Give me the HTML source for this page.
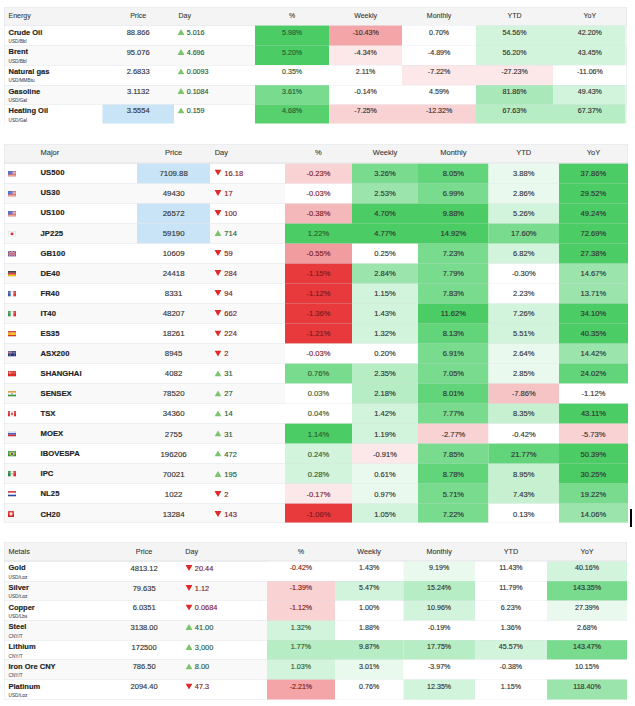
<!DOCTYPE html>
<html><head><meta charset="utf-8"><title>Markets</title>
<style>
html,body{margin:0;padding:0;background:#fff;overflow:hidden;width:635px;height:706px}
#w{position:absolute;left:0;top:0;width:1270px;height:1412px;transform:scale(.5);transform-origin:0 0;
font-family:"Liberation Sans",sans-serif;color:#333}
.b,.t,.a,.f{position:absolute}
.t,.a{z-index:3}
.t{white-space:nowrap;font-size:15px;overflow:visible;-webkit-text-stroke:.3px currentColor}
.h{font-size:14px;color:#333;-webkit-text-stroke:.15px currentColor}
.n{font-weight:bold;font-size:15px;color:#222}
.s{font-size:9.4px;color:#475063;line-height:10px;-webkit-text-stroke:.15px currentColor}
.d{font-size:15px;-webkit-text-stroke:.28px currentColor}
.f svg{display:block}
.dg{letter-spacing:.4px}
svg.a{display:block}
</style></head><body><div id="w">
<div class="b" style="left:8.00px;top:14.00px;width:1246.00px;height:37.20px;background:#f4f4f4;"></div>
<div class="b" style="left:8.00px;top:14.00px;width:1246.00px;height:1.00px;background:#dde0e4;opacity:.7;"></div>
<div class="b" style="left:8.00px;top:49.70px;width:1246.00px;height:1.50px;background:#dde0e4;opacity:.9;"></div>
<div class="t h" style="left:17.00px;top:12.00px;width:300.00px;height:37.00px;line-height:37.00px;text-align:left;font-size:14px;">Energy</div>
<div class="t h" style="left:204.60px;top:12.00px;width:143.40px;height:37.00px;line-height:37.00px;text-align:center;font-size:14px;">Price</div>
<div class="t h" style="left:357.00px;top:12.00px;width:100.00px;height:37.00px;line-height:37.00px;text-align:left;font-size:14px;">Day</div>
<div class="t h" style="left:510.00px;top:12.00px;width:148.40px;height:37.00px;line-height:37.00px;text-align:center;font-size:14px;">%</div>
<div class="t h" style="left:658.40px;top:12.00px;width:145.60px;height:37.00px;line-height:37.00px;text-align:center;font-size:14px;">Weekly</div>
<div class="t h" style="left:804.00px;top:12.00px;width:148.40px;height:37.00px;line-height:37.00px;text-align:center;font-size:14px;">Monthly</div>
<div class="t h" style="left:952.40px;top:12.00px;width:153.20px;height:37.00px;line-height:37.00px;text-align:center;font-size:14px;">YTD</div>
<div class="t h" style="left:1105.60px;top:12.00px;width:148.40px;height:37.00px;line-height:37.00px;text-align:center;font-size:14px;">YoY</div>
<div class="b" style="left:8.00px;top:51.20px;width:1246.00px;height:39.50px;background:#fff;"></div>
<div class="b" style="left:510.00px;top:51.20px;width:148.40px;height:40.70px;background:#4ccc64;z-index:1;"></div>
<div class="b" style="left:658.40px;top:51.20px;width:145.60px;height:40.70px;background:#f3a5a7;z-index:1;"></div>
<div class="b" style="left:804.00px;top:51.20px;width:148.40px;height:40.70px;background:#fff;z-index:1;"></div>
<div class="b" style="left:952.40px;top:51.20px;width:153.20px;height:40.70px;background:#d3f4dc;z-index:1;"></div>
<div class="b" style="left:1105.60px;top:51.20px;width:145.40px;height:40.70px;background:#d3f4dc;z-index:1;"></div>
<div class="b" style="left:8.00px;top:51.20px;width:502.00px;height:1.00px;background:#dde0e4;opacity:.9;"></div>
<div class="b" style="left:510.00px;top:51.20px;width:744.00px;height:1.00px;background:rgba(218,222,228,.5);z-index:2;"></div>
<div class="t n" style="left:17.00px;top:54.60px;width:300.00px;height:18.00px;line-height:18.00px;text-align:left;">Crude Oil</div>
<div class="t s" style="left:17.00px;top:77.00px;width:300.00px;height:10.00px;line-height:10.00px;text-align:left;">USD/Bbl</div>
<div class="t d" style="left:204.60px;top:54.60px;width:143.40px;height:20.00px;line-height:20.00px;text-align:center;font-size:15px;">88.866</div>
<svg class="a" style="left:355.00px;top:58.30px" width="14" height="12" viewBox="0 0 14 12"><polygon points="0,12 7.0,0 14,12" fill="#7cc56c"/></svg>
<div class="t d" style="left:373.50px;top:54.60px;width:150.00px;height:20.00px;line-height:20.00px;text-align:left;color:#2a5c33;font-size:14.2px;">5.016</div>
<div class="t d" style="left:510.00px;top:54.60px;width:148.40px;height:20.00px;line-height:20.00px;text-align:center;color:#2a5c33;font-size:14.2px;">5.98%</div>
<div class="t d" style="left:658.40px;top:54.60px;width:145.60px;height:20.00px;line-height:20.00px;text-align:center;font-size:14.2px;">-10.43%</div>
<div class="t d" style="left:804.00px;top:54.60px;width:148.40px;height:20.00px;line-height:20.00px;text-align:center;font-size:14.2px;">0.70%</div>
<div class="t d" style="left:952.40px;top:54.60px;width:153.20px;height:20.00px;line-height:20.00px;text-align:center;font-size:14.2px;">54.56%</div>
<div class="t d" style="left:1105.60px;top:54.60px;width:148.40px;height:20.00px;line-height:20.00px;text-align:center;font-size:14.2px;">42.20%</div>
<div class="b" style="left:8.00px;top:90.70px;width:1246.00px;height:39.50px;background:#f9f9f9;"></div>
<div class="b" style="left:510.00px;top:90.70px;width:148.40px;height:40.70px;background:#4ccc64;z-index:1;"></div>
<div class="b" style="left:658.40px;top:90.70px;width:145.60px;height:40.70px;background:#fce8e8;z-index:1;"></div>
<div class="b" style="left:804.00px;top:90.70px;width:148.40px;height:40.70px;background:#fff;z-index:1;"></div>
<div class="b" style="left:952.40px;top:90.70px;width:153.20px;height:40.70px;background:#d3f4dc;z-index:1;"></div>
<div class="b" style="left:1105.60px;top:90.70px;width:145.40px;height:40.70px;background:#d3f4dc;z-index:1;"></div>
<div class="b" style="left:8.00px;top:90.70px;width:502.00px;height:1.00px;background:#dde0e4;opacity:.9;"></div>
<div class="b" style="left:510.00px;top:90.70px;width:744.00px;height:1.00px;background:rgba(218,222,228,.5);z-index:2;"></div>
<div class="t n" style="left:17.00px;top:93.90px;width:300.00px;height:18.00px;line-height:18.00px;text-align:left;">Brent</div>
<div class="t s" style="left:17.00px;top:116.70px;width:300.00px;height:10.00px;line-height:10.00px;text-align:left;">USD/Bbl</div>
<div class="t d" style="left:204.60px;top:93.80px;width:143.40px;height:20.00px;line-height:20.00px;text-align:center;font-size:15px;">95.076</div>
<svg class="a" style="left:355.00px;top:97.50px" width="14" height="12" viewBox="0 0 14 12"><polygon points="0,12 7.0,0 14,12" fill="#7cc56c"/></svg>
<div class="t d" style="left:373.50px;top:93.80px;width:150.00px;height:20.00px;line-height:20.00px;text-align:left;color:#2a5c33;font-size:14.2px;">4.696</div>
<div class="t d" style="left:510.00px;top:93.80px;width:148.40px;height:20.00px;line-height:20.00px;text-align:center;color:#2a5c33;font-size:14.2px;">5.20%</div>
<div class="t d" style="left:658.40px;top:93.80px;width:145.60px;height:20.00px;line-height:20.00px;text-align:center;font-size:14.2px;">-4.34%</div>
<div class="t d" style="left:804.00px;top:93.80px;width:148.40px;height:20.00px;line-height:20.00px;text-align:center;font-size:14.2px;">-4.89%</div>
<div class="t d" style="left:952.40px;top:93.80px;width:153.20px;height:20.00px;line-height:20.00px;text-align:center;font-size:14.2px;">56.20%</div>
<div class="t d" style="left:1105.60px;top:93.80px;width:148.40px;height:20.00px;line-height:20.00px;text-align:center;font-size:14.2px;">43.45%</div>
<div class="b" style="left:8.00px;top:130.20px;width:1246.00px;height:39.50px;background:#fff;"></div>
<div class="b" style="left:510.00px;top:130.20px;width:148.40px;height:40.70px;background:#fff;z-index:1;"></div>
<div class="b" style="left:658.40px;top:130.20px;width:145.60px;height:40.70px;background:#fff;z-index:1;"></div>
<div class="b" style="left:804.00px;top:130.20px;width:148.40px;height:40.70px;background:#fce8e8;z-index:1;"></div>
<div class="b" style="left:952.40px;top:130.20px;width:153.20px;height:40.70px;background:#fce8e8;z-index:1;"></div>
<div class="b" style="left:1105.60px;top:130.20px;width:145.40px;height:40.70px;background:#fff;z-index:1;"></div>
<div class="b" style="left:8.00px;top:130.20px;width:502.00px;height:1.00px;background:#dde0e4;opacity:.9;"></div>
<div class="b" style="left:510.00px;top:130.20px;width:744.00px;height:1.00px;background:rgba(218,222,228,.5);z-index:2;"></div>
<div class="t n" style="left:17.00px;top:133.20px;width:300.00px;height:18.00px;line-height:18.00px;text-align:left;">Natural gas</div>
<div class="t s" style="left:17.00px;top:156.40px;width:300.00px;height:10.00px;line-height:10.00px;text-align:left;">USD/MMBtu</div>
<div class="t d" style="left:204.60px;top:133.00px;width:143.40px;height:20.00px;line-height:20.00px;text-align:center;font-size:15px;">2.6833</div>
<svg class="a" style="left:355.00px;top:136.70px" width="14" height="12" viewBox="0 0 14 12"><polygon points="0,12 7.0,0 14,12" fill="#7cc56c"/></svg>
<div class="t d" style="left:373.50px;top:133.00px;width:150.00px;height:20.00px;line-height:20.00px;text-align:left;color:#2a5c33;font-size:14.2px;">0.0093</div>
<div class="t d" style="left:510.00px;top:133.00px;width:148.40px;height:20.00px;line-height:20.00px;text-align:center;color:#2a5c33;font-size:14.2px;">0.35%</div>
<div class="t d" style="left:658.40px;top:133.00px;width:145.60px;height:20.00px;line-height:20.00px;text-align:center;font-size:14.2px;">2.11%</div>
<div class="t d" style="left:804.00px;top:133.00px;width:148.40px;height:20.00px;line-height:20.00px;text-align:center;font-size:14.2px;">-7.22%</div>
<div class="t d" style="left:952.40px;top:133.00px;width:153.20px;height:20.00px;line-height:20.00px;text-align:center;font-size:14.2px;">-27.23%</div>
<div class="t d" style="left:1105.60px;top:133.00px;width:148.40px;height:20.00px;line-height:20.00px;text-align:center;font-size:14.2px;">-11.06%</div>
<div class="b" style="left:8.00px;top:169.70px;width:1246.00px;height:39.50px;background:#f9f9f9;"></div>
<div class="b" style="left:510.00px;top:169.70px;width:148.40px;height:40.70px;background:#78db8e;z-index:1;"></div>
<div class="b" style="left:658.40px;top:169.70px;width:145.60px;height:40.70px;background:#fff;z-index:1;"></div>
<div class="b" style="left:804.00px;top:169.70px;width:148.40px;height:40.70px;background:#fff;z-index:1;"></div>
<div class="b" style="left:952.40px;top:169.70px;width:153.20px;height:40.70px;background:#a9e8b8;z-index:1;"></div>
<div class="b" style="left:1105.60px;top:169.70px;width:145.40px;height:40.70px;background:#d3f4dc;z-index:1;"></div>
<div class="b" style="left:8.00px;top:169.70px;width:502.00px;height:1.00px;background:#dde0e4;opacity:.9;"></div>
<div class="b" style="left:510.00px;top:169.70px;width:744.00px;height:1.00px;background:rgba(218,222,228,.5);z-index:2;"></div>
<div class="t n" style="left:17.00px;top:172.50px;width:300.00px;height:18.00px;line-height:18.00px;text-align:left;">Gasoline</div>
<div class="t s" style="left:17.00px;top:196.10px;width:300.00px;height:10.00px;line-height:10.00px;text-align:left;">USD/Gal</div>
<div class="t d" style="left:204.60px;top:172.20px;width:143.40px;height:20.00px;line-height:20.00px;text-align:center;font-size:15px;">3.1132</div>
<svg class="a" style="left:355.00px;top:175.90px" width="14" height="12" viewBox="0 0 14 12"><polygon points="0,12 7.0,0 14,12" fill="#7cc56c"/></svg>
<div class="t d" style="left:373.50px;top:172.20px;width:150.00px;height:20.00px;line-height:20.00px;text-align:left;color:#2a5c33;font-size:14.2px;">0.1084</div>
<div class="t d" style="left:510.00px;top:172.20px;width:148.40px;height:20.00px;line-height:20.00px;text-align:center;color:#2a5c33;font-size:14.2px;">3.61%</div>
<div class="t d" style="left:658.40px;top:172.20px;width:145.60px;height:20.00px;line-height:20.00px;text-align:center;font-size:14.2px;">-0.14%</div>
<div class="t d" style="left:804.00px;top:172.20px;width:148.40px;height:20.00px;line-height:20.00px;text-align:center;font-size:14.2px;">4.59%</div>
<div class="t d" style="left:952.40px;top:172.20px;width:153.20px;height:20.00px;line-height:20.00px;text-align:center;font-size:14.2px;">81.86%</div>
<div class="t d" style="left:1105.60px;top:172.20px;width:148.40px;height:20.00px;line-height:20.00px;text-align:center;font-size:14.2px;">49.43%</div>
<div class="b" style="left:8.00px;top:209.20px;width:1246.00px;height:38.20px;background:#fff;"></div>
<div class="b" style="left:204.60px;top:209.20px;width:143.40px;height:38.20px;background:#c9e4f6;"></div>
<div class="b" style="left:510.00px;top:209.20px;width:148.40px;height:38.20px;background:#57d06e;z-index:1;"></div>
<div class="b" style="left:658.40px;top:209.20px;width:145.60px;height:38.20px;background:#f9d2d3;z-index:1;"></div>
<div class="b" style="left:804.00px;top:209.20px;width:148.40px;height:38.20px;background:#f9d2d3;z-index:1;"></div>
<div class="b" style="left:952.40px;top:209.20px;width:153.20px;height:38.20px;background:#b7edc4;z-index:1;"></div>
<div class="b" style="left:1105.60px;top:209.20px;width:145.40px;height:38.20px;background:#b7edc4;z-index:1;"></div>
<div class="b" style="left:8.00px;top:209.20px;width:502.00px;height:1.00px;background:#dde0e4;opacity:.9;"></div>
<div class="b" style="left:510.00px;top:209.20px;width:744.00px;height:1.00px;background:rgba(218,222,228,.5);z-index:2;"></div>
<div class="t n" style="left:17.00px;top:211.80px;width:300.00px;height:18.00px;line-height:18.00px;text-align:left;">Heating Oil</div>
<div class="t s" style="left:17.00px;top:235.80px;width:300.00px;height:10.00px;line-height:10.00px;text-align:left;">USD/Gal</div>
<div class="t d" style="left:204.60px;top:211.40px;width:143.40px;height:20.00px;line-height:20.00px;text-align:center;font-size:15px;">3.5554</div>
<svg class="a" style="left:355.00px;top:215.10px" width="14" height="12" viewBox="0 0 14 12"><polygon points="0,12 7.0,0 14,12" fill="#7cc56c"/></svg>
<div class="t d" style="left:373.50px;top:211.40px;width:150.00px;height:20.00px;line-height:20.00px;text-align:left;color:#2a5c33;font-size:14.2px;">0.159</div>
<div class="t d" style="left:510.00px;top:211.40px;width:148.40px;height:20.00px;line-height:20.00px;text-align:center;color:#2a5c33;font-size:14.2px;">4.68%</div>
<div class="t d" style="left:658.40px;top:211.40px;width:145.60px;height:20.00px;line-height:20.00px;text-align:center;font-size:14.2px;">-7.25%</div>
<div class="t d" style="left:804.00px;top:211.40px;width:148.40px;height:20.00px;line-height:20.00px;text-align:center;font-size:14.2px;">-12.32%</div>
<div class="t d" style="left:952.40px;top:211.40px;width:153.20px;height:20.00px;line-height:20.00px;text-align:center;font-size:14.2px;">67.63%</div>
<div class="t d" style="left:1105.60px;top:211.40px;width:148.40px;height:20.00px;line-height:20.00px;text-align:center;font-size:14.2px;">67.37%</div>
<div class="b" style="left:8.00px;top:14.00px;width:1.00px;height:233.40px;background:#dde0e4;opacity:.8;"></div>
<div class="b" style="left:1253.00px;top:14.00px;width:1.00px;height:233.40px;background:#dde0e4;opacity:.8;"></div>
<div class="b" style="left:8.00px;top:288.00px;width:1248.00px;height:38.70px;background:#f4f4f4;"></div>
<div class="b" style="left:8.00px;top:288.00px;width:1248.00px;height:1.00px;background:#dde0e4;opacity:.7;"></div>
<div class="b" style="left:8.00px;top:325.20px;width:1248.00px;height:1.50px;background:#dde0e4;opacity:.9;"></div>
<div class="t h" style="left:81.00px;top:286.30px;width:300.00px;height:38.70px;line-height:38.70px;text-align:left;font-size:15px;">Major</div>
<div class="t h" style="left:274.00px;top:286.30px;width:146.40px;height:38.70px;line-height:38.70px;text-align:center;font-size:15px;">Price</div>
<div class="t h" style="left:429.40px;top:286.30px;width:100.00px;height:38.70px;line-height:38.70px;text-align:left;font-size:15px;">Day</div>
<div class="t h" style="left:570.00px;top:286.30px;width:133.80px;height:38.70px;line-height:38.70px;text-align:center;font-size:15px;">%</div>
<div class="t h" style="left:703.80px;top:286.30px;width:132.20px;height:38.70px;line-height:38.70px;text-align:center;font-size:15px;">Weekly</div>
<div class="t h" style="left:836.00px;top:286.30px;width:141.40px;height:38.70px;line-height:38.70px;text-align:center;font-size:15px;">Monthly</div>
<div class="t h" style="left:977.40px;top:286.30px;width:140.20px;height:38.70px;line-height:38.70px;text-align:center;font-size:15px;">YTD</div>
<div class="t h" style="left:1117.60px;top:286.30px;width:138.40px;height:38.70px;line-height:38.70px;text-align:center;font-size:15px;">YoY</div>
<div class="b" style="left:8.00px;top:326.70px;width:1248.00px;height:40.00px;background:#fff;"></div>
<div class="b" style="left:274.00px;top:326.70px;width:146.40px;height:40.00px;background:#c9e4f6;"></div>
<div class="b" style="left:570.00px;top:326.70px;width:133.80px;height:41.20px;background:#f9d2d3;z-index:1;"></div>
<div class="b" style="left:703.80px;top:326.70px;width:132.20px;height:41.20px;background:#78db8e;z-index:1;"></div>
<div class="b" style="left:836.00px;top:326.70px;width:141.40px;height:41.20px;background:#62d47a;z-index:1;"></div>
<div class="b" style="left:977.40px;top:326.70px;width:140.20px;height:41.20px;background:#eaf9ee;z-index:1;"></div>
<div class="b" style="left:1117.60px;top:326.70px;width:138.40px;height:41.20px;background:#4ccc64;z-index:1;"></div>
<div class="b" style="left:8.00px;top:326.70px;width:562.00px;height:1.00px;background:#dde0e4;opacity:.9;"></div>
<div class="b" style="left:570.00px;top:326.70px;width:686.00px;height:1.00px;background:rgba(218,222,228,.5);z-index:2;"></div>
<div class="f" style="left:16.00px;top:341.50px"><svg width="16" height="11" viewBox="0 0 16 11"><rect width="16" height="11" fill="#efbcb6"/><rect y="0" width="16" height="1.6" fill="#dd6660"/><rect y="3.1" width="16" height="1.6" fill="#dd6660"/><rect y="6.2" width="16" height="1.6" fill="#dd6660"/><rect y="9.4" width="16" height="1.6" fill="#dd6660"/><rect width="9" height="6.4" fill="#3d5fd6"/><rect width="16" height="5.5" fill="#fff" opacity=".18"/><rect x=".5" y=".5" width="15" height="10" fill="none" stroke="#000" stroke-opacity=".15"/></svg></div>
<div class="t n" style="left:81.00px;top:335.10px;width:300.00px;height:20.00px;line-height:20.00px;text-align:left;font-size:15.4px;">US<span class="dg">500</span></div>
<div class="t d" style="left:274.00px;top:335.70px;width:146.40px;height:20.00px;line-height:20.00px;text-align:center;font-size:15.7px;">7109.88</div>
<svg class="a" style="left:429.40px;top:339.40px" width="14" height="12" viewBox="0 0 14 12"><polygon points="0,0 14,0 7.0,12" fill="#e02a2a"/></svg>
<div class="t d" style="left:448.40px;top:335.70px;width:150.00px;height:20.00px;line-height:20.00px;text-align:left;color:#7e1919;font-size:15.2px;">16.18</div>
<div class="t d" style="left:570.00px;top:335.70px;width:133.80px;height:20.00px;line-height:20.00px;text-align:center;color:#7e1919;font-size:15.1px;">-0.23%</div>
<div class="t d" style="left:703.80px;top:335.70px;width:132.20px;height:20.00px;line-height:20.00px;text-align:center;font-size:15.1px;">3.26%</div>
<div class="t d" style="left:836.00px;top:335.70px;width:141.40px;height:20.00px;line-height:20.00px;text-align:center;font-size:15.1px;">8.05%</div>
<div class="t d" style="left:977.40px;top:335.70px;width:140.20px;height:20.00px;line-height:20.00px;text-align:center;font-size:15.1px;">3.88%</div>
<div class="t d" style="left:1117.60px;top:335.70px;width:138.40px;height:20.00px;line-height:20.00px;text-align:center;font-size:15.1px;">37.86%</div>
<div class="b" style="left:8.00px;top:366.70px;width:1248.00px;height:40.00px;background:#f9f9f9;"></div>
<div class="b" style="left:570.00px;top:366.70px;width:133.80px;height:41.20px;background:#fff;z-index:1;"></div>
<div class="b" style="left:703.80px;top:366.70px;width:132.20px;height:41.20px;background:#9be5ac;z-index:1;"></div>
<div class="b" style="left:836.00px;top:366.70px;width:141.40px;height:41.20px;background:#78db8e;z-index:1;"></div>
<div class="b" style="left:977.40px;top:366.70px;width:140.20px;height:41.20px;background:#eaf9ee;z-index:1;"></div>
<div class="b" style="left:1117.60px;top:366.70px;width:138.40px;height:41.20px;background:#4ccc64;z-index:1;"></div>
<div class="b" style="left:8.00px;top:366.70px;width:562.00px;height:1.00px;background:#dde0e4;opacity:.9;"></div>
<div class="b" style="left:570.00px;top:366.70px;width:686.00px;height:1.00px;background:rgba(218,222,228,.5);z-index:2;"></div>
<div class="f" style="left:16.00px;top:381.55px"><svg width="16" height="11" viewBox="0 0 16 11"><rect width="16" height="11" fill="#efbcb6"/><rect y="0" width="16" height="1.6" fill="#dd6660"/><rect y="3.1" width="16" height="1.6" fill="#dd6660"/><rect y="6.2" width="16" height="1.6" fill="#dd6660"/><rect y="9.4" width="16" height="1.6" fill="#dd6660"/><rect width="9" height="6.4" fill="#3d5fd6"/><rect width="16" height="5.5" fill="#fff" opacity=".18"/><rect x=".5" y=".5" width="15" height="10" fill="none" stroke="#000" stroke-opacity=".15"/></svg></div>
<div class="t n" style="left:81.00px;top:375.24px;width:300.00px;height:20.00px;line-height:20.00px;text-align:left;font-size:15.4px;">US<span class="dg">30</span></div>
<div class="t d" style="left:274.00px;top:375.84px;width:146.40px;height:20.00px;line-height:20.00px;text-align:center;font-size:15.7px;">49430</div>
<svg class="a" style="left:429.40px;top:379.54px" width="14" height="12" viewBox="0 0 14 12"><polygon points="0,0 14,0 7.0,12" fill="#e02a2a"/></svg>
<div class="t d" style="left:448.40px;top:375.84px;width:150.00px;height:20.00px;line-height:20.00px;text-align:left;color:#7e1919;font-size:15.2px;">17</div>
<div class="t d" style="left:570.00px;top:375.84px;width:133.80px;height:20.00px;line-height:20.00px;text-align:center;color:#7e1919;font-size:15.1px;">-0.03%</div>
<div class="t d" style="left:703.80px;top:375.84px;width:132.20px;height:20.00px;line-height:20.00px;text-align:center;font-size:15.1px;">2.53%</div>
<div class="t d" style="left:836.00px;top:375.84px;width:141.40px;height:20.00px;line-height:20.00px;text-align:center;font-size:15.1px;">6.99%</div>
<div class="t d" style="left:977.40px;top:375.84px;width:140.20px;height:20.00px;line-height:20.00px;text-align:center;font-size:15.1px;">2.86%</div>
<div class="t d" style="left:1117.60px;top:375.84px;width:138.40px;height:20.00px;line-height:20.00px;text-align:center;font-size:15.1px;">29.52%</div>
<div class="b" style="left:8.00px;top:406.70px;width:1248.00px;height:40.00px;background:#fff;"></div>
<div class="b" style="left:274.00px;top:406.70px;width:146.40px;height:40.00px;background:#c9e4f6;"></div>
<div class="b" style="left:570.00px;top:406.70px;width:133.80px;height:41.20px;background:#f5b8ba;z-index:1;"></div>
<div class="b" style="left:703.80px;top:406.70px;width:132.20px;height:41.20px;background:#4ccc64;z-index:1;"></div>
<div class="b" style="left:836.00px;top:406.70px;width:141.40px;height:41.20px;background:#4ccc64;z-index:1;"></div>
<div class="b" style="left:977.40px;top:406.70px;width:140.20px;height:41.20px;background:#d3f4dc;z-index:1;"></div>
<div class="b" style="left:1117.60px;top:406.70px;width:138.40px;height:41.20px;background:#4ccc64;z-index:1;"></div>
<div class="b" style="left:8.00px;top:406.70px;width:562.00px;height:1.00px;background:#dde0e4;opacity:.9;"></div>
<div class="b" style="left:570.00px;top:406.70px;width:686.00px;height:1.00px;background:rgba(218,222,228,.5);z-index:2;"></div>
<div class="f" style="left:16.00px;top:421.60px"><svg width="16" height="11" viewBox="0 0 16 11"><rect width="16" height="11" fill="#efbcb6"/><rect y="0" width="16" height="1.6" fill="#dd6660"/><rect y="3.1" width="16" height="1.6" fill="#dd6660"/><rect y="6.2" width="16" height="1.6" fill="#dd6660"/><rect y="9.4" width="16" height="1.6" fill="#dd6660"/><rect width="9" height="6.4" fill="#3d5fd6"/><rect width="16" height="5.5" fill="#fff" opacity=".18"/><rect x=".5" y=".5" width="15" height="10" fill="none" stroke="#000" stroke-opacity=".15"/></svg></div>
<div class="t n" style="left:81.00px;top:415.39px;width:300.00px;height:20.00px;line-height:20.00px;text-align:left;font-size:15.4px;">US<span class="dg">100</span></div>
<div class="t d" style="left:274.00px;top:415.99px;width:146.40px;height:20.00px;line-height:20.00px;text-align:center;font-size:15.7px;">26572</div>
<svg class="a" style="left:429.40px;top:419.69px" width="14" height="12" viewBox="0 0 14 12"><polygon points="0,0 14,0 7.0,12" fill="#e02a2a"/></svg>
<div class="t d" style="left:448.40px;top:415.99px;width:150.00px;height:20.00px;line-height:20.00px;text-align:left;color:#7e1919;font-size:15.2px;">100</div>
<div class="t d" style="left:570.00px;top:415.99px;width:133.80px;height:20.00px;line-height:20.00px;text-align:center;color:#7e1919;font-size:15.1px;">-0.38%</div>
<div class="t d" style="left:703.80px;top:415.99px;width:132.20px;height:20.00px;line-height:20.00px;text-align:center;font-size:15.1px;">4.70%</div>
<div class="t d" style="left:836.00px;top:415.99px;width:141.40px;height:20.00px;line-height:20.00px;text-align:center;font-size:15.1px;">9.88%</div>
<div class="t d" style="left:977.40px;top:415.99px;width:140.20px;height:20.00px;line-height:20.00px;text-align:center;font-size:15.1px;">5.26%</div>
<div class="t d" style="left:1117.60px;top:415.99px;width:138.40px;height:20.00px;line-height:20.00px;text-align:center;font-size:15.1px;">49.24%</div>
<div class="b" style="left:8.00px;top:446.70px;width:1248.00px;height:40.00px;background:#f9f9f9;"></div>
<div class="b" style="left:274.00px;top:446.70px;width:146.40px;height:40.00px;background:#c9e4f6;"></div>
<div class="b" style="left:570.00px;top:446.70px;width:133.80px;height:41.20px;background:#4ccc64;z-index:1;"></div>
<div class="b" style="left:703.80px;top:446.70px;width:132.20px;height:41.20px;background:#4ccc64;z-index:1;"></div>
<div class="b" style="left:836.00px;top:446.70px;width:141.40px;height:41.20px;background:#4ccc64;z-index:1;"></div>
<div class="b" style="left:977.40px;top:446.70px;width:140.20px;height:41.20px;background:#78db8e;z-index:1;"></div>
<div class="b" style="left:1117.60px;top:446.70px;width:138.40px;height:41.20px;background:#4ccc64;z-index:1;"></div>
<div class="b" style="left:8.00px;top:446.70px;width:562.00px;height:1.00px;background:#dde0e4;opacity:.9;"></div>
<div class="b" style="left:570.00px;top:446.70px;width:686.00px;height:1.00px;background:rgba(218,222,228,.5);z-index:2;"></div>
<div class="f" style="left:16.00px;top:461.65px"><svg width="16" height="11" viewBox="0 0 16 11"><rect width="16" height="11" fill="#fbfbfb"/><circle cx="8" cy="5.5" r="3" fill="#e0202c"/><rect width="16" height="5.5" fill="#fff" opacity=".18"/><rect x=".5" y=".5" width="15" height="10" fill="none" stroke="#000" stroke-opacity=".15"/></svg></div>
<div class="t n" style="left:81.00px;top:455.53px;width:300.00px;height:20.00px;line-height:20.00px;text-align:left;font-size:15.4px;">JP<span class="dg">225</span></div>
<div class="t d" style="left:274.00px;top:456.13px;width:146.40px;height:20.00px;line-height:20.00px;text-align:center;font-size:15.7px;">59190</div>
<svg class="a" style="left:429.40px;top:459.83px" width="14" height="12" viewBox="0 0 14 12"><polygon points="0,12 7.0,0 14,12" fill="#7cc56c"/></svg>
<div class="t d" style="left:448.40px;top:456.13px;width:150.00px;height:20.00px;line-height:20.00px;text-align:left;color:#2a5c33;font-size:15.2px;">714</div>
<div class="t d" style="left:570.00px;top:456.13px;width:133.80px;height:20.00px;line-height:20.00px;text-align:center;color:#2a5c33;font-size:15.1px;">1.22%</div>
<div class="t d" style="left:703.80px;top:456.13px;width:132.20px;height:20.00px;line-height:20.00px;text-align:center;font-size:15.1px;">4.77%</div>
<div class="t d" style="left:836.00px;top:456.13px;width:141.40px;height:20.00px;line-height:20.00px;text-align:center;font-size:15.1px;">14.92%</div>
<div class="t d" style="left:977.40px;top:456.13px;width:140.20px;height:20.00px;line-height:20.00px;text-align:center;font-size:15.1px;">17.60%</div>
<div class="t d" style="left:1117.60px;top:456.13px;width:138.40px;height:20.00px;line-height:20.00px;text-align:center;font-size:15.1px;">72.69%</div>
<div class="b" style="left:8.00px;top:486.70px;width:1248.00px;height:40.00px;background:#fff;"></div>
<div class="b" style="left:570.00px;top:486.70px;width:133.80px;height:41.20px;background:#f19c9f;z-index:1;"></div>
<div class="b" style="left:703.80px;top:486.70px;width:132.20px;height:41.20px;background:#fff;z-index:1;"></div>
<div class="b" style="left:836.00px;top:486.70px;width:141.40px;height:41.20px;background:#78db8e;z-index:1;"></div>
<div class="b" style="left:977.40px;top:486.70px;width:140.20px;height:41.20px;background:#d3f4dc;z-index:1;"></div>
<div class="b" style="left:1117.60px;top:486.70px;width:138.40px;height:41.20px;background:#4ccc64;z-index:1;"></div>
<div class="b" style="left:8.00px;top:486.70px;width:562.00px;height:1.00px;background:#dde0e4;opacity:.9;"></div>
<div class="b" style="left:570.00px;top:486.70px;width:686.00px;height:1.00px;background:rgba(218,222,228,.5);z-index:2;"></div>
<div class="f" style="left:16.00px;top:501.70px"><svg width="16" height="11" viewBox="0 0 16 11"><rect width="16" height="11" fill="#343c9c"/><path d="M0,0 L16,11 M16,0 L0,11" stroke="#dcdcf0" stroke-width="1.8"/><path d="M0,0 L16,11 M16,0 L0,11" stroke="#d33" stroke-width=".8"/><path d="M8,0 V11 M0,5.5 H16" stroke="#e8e8f4" stroke-width="3.2"/><path d="M8,0 V11 M0,5.5 H16" stroke="#d62a34" stroke-width="2"/><rect width="16" height="5.5" fill="#fff" opacity=".18"/><rect x=".5" y=".5" width="15" height="10" fill="none" stroke="#000" stroke-opacity=".15"/></svg></div>
<div class="t n" style="left:81.00px;top:495.68px;width:300.00px;height:20.00px;line-height:20.00px;text-align:left;font-size:15.4px;">GB<span class="dg">100</span></div>
<div class="t d" style="left:274.00px;top:496.28px;width:146.40px;height:20.00px;line-height:20.00px;text-align:center;font-size:15.7px;">10609</div>
<svg class="a" style="left:429.40px;top:499.98px" width="14" height="12" viewBox="0 0 14 12"><polygon points="0,0 14,0 7.0,12" fill="#e02a2a"/></svg>
<div class="t d" style="left:448.40px;top:496.28px;width:150.00px;height:20.00px;line-height:20.00px;text-align:left;color:#7e1919;font-size:15.2px;">59</div>
<div class="t d" style="left:570.00px;top:496.28px;width:133.80px;height:20.00px;line-height:20.00px;text-align:center;color:#7e1919;font-size:15.1px;">-0.55%</div>
<div class="t d" style="left:703.80px;top:496.28px;width:132.20px;height:20.00px;line-height:20.00px;text-align:center;font-size:15.1px;">0.25%</div>
<div class="t d" style="left:836.00px;top:496.28px;width:141.40px;height:20.00px;line-height:20.00px;text-align:center;font-size:15.1px;">7.23%</div>
<div class="t d" style="left:977.40px;top:496.28px;width:140.20px;height:20.00px;line-height:20.00px;text-align:center;font-size:15.1px;">6.82%</div>
<div class="t d" style="left:1117.60px;top:496.28px;width:138.40px;height:20.00px;line-height:20.00px;text-align:center;font-size:15.1px;">27.38%</div>
<div class="b" style="left:8.00px;top:526.70px;width:1248.00px;height:40.00px;background:#f9f9f9;"></div>
<div class="b" style="left:570.00px;top:526.70px;width:133.80px;height:41.20px;background:#e8393c;z-index:1;"></div>
<div class="b" style="left:703.80px;top:526.70px;width:132.20px;height:41.20px;background:#9be5ac;z-index:1;"></div>
<div class="b" style="left:836.00px;top:526.70px;width:141.40px;height:41.20px;background:#78db8e;z-index:1;"></div>
<div class="b" style="left:977.40px;top:526.70px;width:140.20px;height:41.20px;background:#fff;z-index:1;"></div>
<div class="b" style="left:1117.60px;top:526.70px;width:138.40px;height:41.20px;background:#9be5ac;z-index:1;"></div>
<div class="b" style="left:8.00px;top:526.70px;width:562.00px;height:1.00px;background:#dde0e4;opacity:.9;"></div>
<div class="b" style="left:570.00px;top:526.70px;width:686.00px;height:1.00px;background:rgba(218,222,228,.5);z-index:2;"></div>
<div class="f" style="left:16.00px;top:541.75px"><svg width="16" height="11" viewBox="0 0 16 11"><rect width="16" height="3.7" fill="#222"/><rect y="3.7" width="16" height="3.7" fill="#d4242a"/><rect y="7.4" width="16" height="3.6" fill="#f0c414"/><rect width="16" height="5.5" fill="#fff" opacity=".18"/><rect x=".5" y=".5" width="15" height="10" fill="none" stroke="#000" stroke-opacity=".15"/></svg></div>
<div class="t n" style="left:81.00px;top:535.83px;width:300.00px;height:20.00px;line-height:20.00px;text-align:left;font-size:15.4px;">DE<span class="dg">40</span></div>
<div class="t d" style="left:274.00px;top:536.43px;width:146.40px;height:20.00px;line-height:20.00px;text-align:center;font-size:15.7px;">24418</div>
<svg class="a" style="left:429.40px;top:540.13px" width="14" height="12" viewBox="0 0 14 12"><polygon points="0,0 14,0 7.0,12" fill="#e02a2a"/></svg>
<div class="t d" style="left:448.40px;top:536.43px;width:150.00px;height:20.00px;line-height:20.00px;text-align:left;color:#7e1919;font-size:15.2px;">284</div>
<div class="t d" style="left:570.00px;top:536.43px;width:133.80px;height:20.00px;line-height:20.00px;text-align:center;color:#7e1919;font-size:15.1px;">-1.15%</div>
<div class="t d" style="left:703.80px;top:536.43px;width:132.20px;height:20.00px;line-height:20.00px;text-align:center;font-size:15.1px;">2.84%</div>
<div class="t d" style="left:836.00px;top:536.43px;width:141.40px;height:20.00px;line-height:20.00px;text-align:center;font-size:15.1px;">7.79%</div>
<div class="t d" style="left:977.40px;top:536.43px;width:140.20px;height:20.00px;line-height:20.00px;text-align:center;font-size:15.1px;">-0.30%</div>
<div class="t d" style="left:1117.60px;top:536.43px;width:138.40px;height:20.00px;line-height:20.00px;text-align:center;font-size:15.1px;">14.67%</div>
<div class="b" style="left:8.00px;top:566.70px;width:1248.00px;height:40.00px;background:#fff;"></div>
<div class="b" style="left:570.00px;top:566.70px;width:133.80px;height:41.20px;background:#e8393c;z-index:1;"></div>
<div class="b" style="left:703.80px;top:566.70px;width:132.20px;height:41.20px;background:#d3f4dc;z-index:1;"></div>
<div class="b" style="left:836.00px;top:566.70px;width:141.40px;height:41.20px;background:#78db8e;z-index:1;"></div>
<div class="b" style="left:977.40px;top:566.70px;width:140.20px;height:41.20px;background:#fff;z-index:1;"></div>
<div class="b" style="left:1117.60px;top:566.70px;width:138.40px;height:41.20px;background:#9be5ac;z-index:1;"></div>
<div class="b" style="left:8.00px;top:566.70px;width:562.00px;height:1.00px;background:#dde0e4;opacity:.9;"></div>
<div class="b" style="left:570.00px;top:566.70px;width:686.00px;height:1.00px;background:rgba(218,222,228,.5);z-index:2;"></div>
<div class="f" style="left:16.00px;top:581.80px"><svg width="16" height="11" viewBox="0 0 16 11"><rect width="16" height="11" fill="#f4f4f4"/><rect width="5.3" height="11" fill="#3c5fb4"/><rect x="10.7" width="5.3" height="11" fill="#e03a3a"/><rect width="16" height="5.5" fill="#fff" opacity=".18"/><rect x=".5" y=".5" width="15" height="10" fill="none" stroke="#000" stroke-opacity=".15"/></svg></div>
<div class="t n" style="left:81.00px;top:575.97px;width:300.00px;height:20.00px;line-height:20.00px;text-align:left;font-size:15.4px;">FR<span class="dg">40</span></div>
<div class="t d" style="left:274.00px;top:576.57px;width:146.40px;height:20.00px;line-height:20.00px;text-align:center;font-size:15.7px;">8331</div>
<svg class="a" style="left:429.40px;top:580.27px" width="14" height="12" viewBox="0 0 14 12"><polygon points="0,0 14,0 7.0,12" fill="#e02a2a"/></svg>
<div class="t d" style="left:448.40px;top:576.57px;width:150.00px;height:20.00px;line-height:20.00px;text-align:left;color:#7e1919;font-size:15.2px;">94</div>
<div class="t d" style="left:570.00px;top:576.57px;width:133.80px;height:20.00px;line-height:20.00px;text-align:center;color:#7e1919;font-size:15.1px;">-1.12%</div>
<div class="t d" style="left:703.80px;top:576.57px;width:132.20px;height:20.00px;line-height:20.00px;text-align:center;font-size:15.1px;">1.15%</div>
<div class="t d" style="left:836.00px;top:576.57px;width:141.40px;height:20.00px;line-height:20.00px;text-align:center;font-size:15.1px;">7.83%</div>
<div class="t d" style="left:977.40px;top:576.57px;width:140.20px;height:20.00px;line-height:20.00px;text-align:center;font-size:15.1px;">2.23%</div>
<div class="t d" style="left:1117.60px;top:576.57px;width:138.40px;height:20.00px;line-height:20.00px;text-align:center;font-size:15.1px;">13.71%</div>
<div class="b" style="left:8.00px;top:606.70px;width:1248.00px;height:40.00px;background:#f9f9f9;"></div>
<div class="b" style="left:570.00px;top:606.70px;width:133.80px;height:41.20px;background:#e8393c;z-index:1;"></div>
<div class="b" style="left:703.80px;top:606.70px;width:132.20px;height:41.20px;background:#d3f4dc;z-index:1;"></div>
<div class="b" style="left:836.00px;top:606.70px;width:141.40px;height:41.20px;background:#4ccc64;z-index:1;"></div>
<div class="b" style="left:977.40px;top:606.70px;width:140.20px;height:41.20px;background:#d3f4dc;z-index:1;"></div>
<div class="b" style="left:1117.60px;top:606.70px;width:138.40px;height:41.20px;background:#4ccc64;z-index:1;"></div>
<div class="b" style="left:8.00px;top:606.70px;width:562.00px;height:1.00px;background:#dde0e4;opacity:.9;"></div>
<div class="b" style="left:570.00px;top:606.70px;width:686.00px;height:1.00px;background:rgba(218,222,228,.5);z-index:2;"></div>
<div class="f" style="left:16.00px;top:621.85px"><svg width="16" height="11" viewBox="0 0 16 11"><rect width="16" height="11" fill="#f4f4f4"/><rect width="5.3" height="11" fill="#3f9a4c"/><rect x="10.7" width="5.3" height="11" fill="#d93333"/><rect width="16" height="5.5" fill="#fff" opacity=".18"/><rect x=".5" y=".5" width="15" height="10" fill="none" stroke="#000" stroke-opacity=".15"/></svg></div>
<div class="t n" style="left:81.00px;top:616.12px;width:300.00px;height:20.00px;line-height:20.00px;text-align:left;font-size:15.4px;">IT<span class="dg">40</span></div>
<div class="t d" style="left:274.00px;top:616.72px;width:146.40px;height:20.00px;line-height:20.00px;text-align:center;font-size:15.7px;">48207</div>
<svg class="a" style="left:429.40px;top:620.42px" width="14" height="12" viewBox="0 0 14 12"><polygon points="0,0 14,0 7.0,12" fill="#e02a2a"/></svg>
<div class="t d" style="left:448.40px;top:616.72px;width:150.00px;height:20.00px;line-height:20.00px;text-align:left;color:#7e1919;font-size:15.2px;">662</div>
<div class="t d" style="left:570.00px;top:616.72px;width:133.80px;height:20.00px;line-height:20.00px;text-align:center;color:#7e1919;font-size:15.1px;">-1.36%</div>
<div class="t d" style="left:703.80px;top:616.72px;width:132.20px;height:20.00px;line-height:20.00px;text-align:center;font-size:15.1px;">1.43%</div>
<div class="t d" style="left:836.00px;top:616.72px;width:141.40px;height:20.00px;line-height:20.00px;text-align:center;font-size:15.1px;">11.62%</div>
<div class="t d" style="left:977.40px;top:616.72px;width:140.20px;height:20.00px;line-height:20.00px;text-align:center;font-size:15.1px;">7.26%</div>
<div class="t d" style="left:1117.60px;top:616.72px;width:138.40px;height:20.00px;line-height:20.00px;text-align:center;font-size:15.1px;">34.10%</div>
<div class="b" style="left:8.00px;top:646.70px;width:1248.00px;height:40.00px;background:#fff;"></div>
<div class="b" style="left:570.00px;top:646.70px;width:133.80px;height:41.20px;background:#e8393c;z-index:1;"></div>
<div class="b" style="left:703.80px;top:646.70px;width:132.20px;height:41.20px;background:#d3f4dc;z-index:1;"></div>
<div class="b" style="left:836.00px;top:646.70px;width:141.40px;height:41.20px;background:#62d47a;z-index:1;"></div>
<div class="b" style="left:977.40px;top:646.70px;width:140.20px;height:41.20px;background:#d3f4dc;z-index:1;"></div>
<div class="b" style="left:1117.60px;top:646.70px;width:138.40px;height:41.20px;background:#4ccc64;z-index:1;"></div>
<div class="b" style="left:8.00px;top:646.70px;width:562.00px;height:1.00px;background:#dde0e4;opacity:.9;"></div>
<div class="b" style="left:570.00px;top:646.70px;width:686.00px;height:1.00px;background:rgba(218,222,228,.5);z-index:2;"></div>
<div class="f" style="left:16.00px;top:661.90px"><svg width="16" height="11" viewBox="0 0 16 11"><rect width="16" height="11" fill="#d9262b"/><rect y="2.8" width="16" height="5.4" fill="#f8c41c"/><rect x="3" y="4" width="2.5" height="3" fill="#c98a3a"/><rect width="16" height="5.5" fill="#fff" opacity=".18"/><rect x=".5" y=".5" width="15" height="10" fill="none" stroke="#000" stroke-opacity=".15"/></svg></div>
<div class="t n" style="left:81.00px;top:656.26px;width:300.00px;height:20.00px;line-height:20.00px;text-align:left;font-size:15.4px;">ES<span class="dg">35</span></div>
<div class="t d" style="left:274.00px;top:656.86px;width:146.40px;height:20.00px;line-height:20.00px;text-align:center;font-size:15.7px;">18261</div>
<svg class="a" style="left:429.40px;top:660.56px" width="14" height="12" viewBox="0 0 14 12"><polygon points="0,0 14,0 7.0,12" fill="#e02a2a"/></svg>
<div class="t d" style="left:448.40px;top:656.86px;width:150.00px;height:20.00px;line-height:20.00px;text-align:left;color:#7e1919;font-size:15.2px;">224</div>
<div class="t d" style="left:570.00px;top:656.86px;width:133.80px;height:20.00px;line-height:20.00px;text-align:center;color:#7e1919;font-size:15.1px;">-1.21%</div>
<div class="t d" style="left:703.80px;top:656.86px;width:132.20px;height:20.00px;line-height:20.00px;text-align:center;font-size:15.1px;">1.32%</div>
<div class="t d" style="left:836.00px;top:656.86px;width:141.40px;height:20.00px;line-height:20.00px;text-align:center;font-size:15.1px;">8.13%</div>
<div class="t d" style="left:977.40px;top:656.86px;width:140.20px;height:20.00px;line-height:20.00px;text-align:center;font-size:15.1px;">5.51%</div>
<div class="t d" style="left:1117.60px;top:656.86px;width:138.40px;height:20.00px;line-height:20.00px;text-align:center;font-size:15.1px;">40.35%</div>
<div class="b" style="left:8.00px;top:686.70px;width:1248.00px;height:40.00px;background:#f9f9f9;"></div>
<div class="b" style="left:570.00px;top:686.70px;width:133.80px;height:41.20px;background:#fff;z-index:1;"></div>
<div class="b" style="left:703.80px;top:686.70px;width:132.20px;height:41.20px;background:#fff;z-index:1;"></div>
<div class="b" style="left:836.00px;top:686.70px;width:141.40px;height:41.20px;background:#78db8e;z-index:1;"></div>
<div class="b" style="left:977.40px;top:686.70px;width:140.20px;height:41.20px;background:#eaf9ee;z-index:1;"></div>
<div class="b" style="left:1117.60px;top:686.70px;width:138.40px;height:41.20px;background:#9be5ac;z-index:1;"></div>
<div class="b" style="left:8.00px;top:686.70px;width:562.00px;height:1.00px;background:#dde0e4;opacity:.9;"></div>
<div class="b" style="left:570.00px;top:686.70px;width:686.00px;height:1.00px;background:rgba(218,222,228,.5);z-index:2;"></div>
<div class="f" style="left:16.00px;top:701.95px"><svg width="16" height="11" viewBox="0 0 16 11"><rect width="16" height="11" fill="#28367c"/><rect width="8" height="5.5" fill="#4a4d96"/><path d="M4,0 V5.5 M0,2.75 H8" stroke="#e66" stroke-width="1.4"/><circle cx="12" cy="3" r=".8" fill="#fff"/><circle cx="12.5" cy="8" r=".8" fill="#fff"/><circle cx="4" cy="8.2" r="1" fill="#fff"/><circle cx="14" cy="5.3" r=".6" fill="#fff"/><rect width="16" height="5.5" fill="#fff" opacity=".18"/><rect x=".5" y=".5" width="15" height="10" fill="none" stroke="#000" stroke-opacity=".15"/></svg></div>
<div class="t n" style="left:81.00px;top:696.40px;width:300.00px;height:20.00px;line-height:20.00px;text-align:left;font-size:15.4px;">ASX<span class="dg">200</span></div>
<div class="t d" style="left:274.00px;top:697.00px;width:146.40px;height:20.00px;line-height:20.00px;text-align:center;font-size:15.7px;">8945</div>
<svg class="a" style="left:429.40px;top:700.71px" width="14" height="12" viewBox="0 0 14 12"><polygon points="0,0 14,0 7.0,12" fill="#e02a2a"/></svg>
<div class="t d" style="left:448.40px;top:697.00px;width:150.00px;height:20.00px;line-height:20.00px;text-align:left;color:#7e1919;font-size:15.2px;">2</div>
<div class="t d" style="left:570.00px;top:697.00px;width:133.80px;height:20.00px;line-height:20.00px;text-align:center;color:#7e1919;font-size:15.1px;">-0.03%</div>
<div class="t d" style="left:703.80px;top:697.00px;width:132.20px;height:20.00px;line-height:20.00px;text-align:center;font-size:15.1px;">0.20%</div>
<div class="t d" style="left:836.00px;top:697.00px;width:141.40px;height:20.00px;line-height:20.00px;text-align:center;font-size:15.1px;">6.91%</div>
<div class="t d" style="left:977.40px;top:697.00px;width:140.20px;height:20.00px;line-height:20.00px;text-align:center;font-size:15.1px;">2.64%</div>
<div class="t d" style="left:1117.60px;top:697.00px;width:138.40px;height:20.00px;line-height:20.00px;text-align:center;font-size:15.1px;">14.42%</div>
<div class="b" style="left:8.00px;top:726.70px;width:1248.00px;height:40.00px;background:#fff;"></div>
<div class="b" style="left:570.00px;top:726.70px;width:133.80px;height:41.20px;background:#78db8e;z-index:1;"></div>
<div class="b" style="left:703.80px;top:726.70px;width:132.20px;height:41.20px;background:#b7edc4;z-index:1;"></div>
<div class="b" style="left:836.00px;top:726.70px;width:141.40px;height:41.20px;background:#78db8e;z-index:1;"></div>
<div class="b" style="left:977.40px;top:726.70px;width:140.20px;height:41.20px;background:#eaf9ee;z-index:1;"></div>
<div class="b" style="left:1117.60px;top:726.70px;width:138.40px;height:41.20px;background:#62d47a;z-index:1;"></div>
<div class="b" style="left:8.00px;top:726.70px;width:562.00px;height:1.00px;background:#dde0e4;opacity:.9;"></div>
<div class="b" style="left:570.00px;top:726.70px;width:686.00px;height:1.00px;background:rgba(218,222,228,.5);z-index:2;"></div>
<div class="f" style="left:16.00px;top:742.00px"><svg width="16" height="11" viewBox="0 0 16 11"><rect width="16" height="11" fill="#de2a2a"/><circle cx="3.5" cy="3.3" r="1.7" fill="#f5d222"/><circle cx="6.6" cy="2" r=".6" fill="#f5d222"/><circle cx="7.2" cy="4.2" r=".6" fill="#f5d222"/><rect width="16" height="5.5" fill="#fff" opacity=".18"/><rect x=".5" y=".5" width="15" height="10" fill="none" stroke="#000" stroke-opacity=".15"/></svg></div>
<div class="t n" style="left:81.00px;top:736.55px;width:300.00px;height:20.00px;line-height:20.00px;text-align:left;font-size:15.4px;">SHANGHAI</div>
<div class="t d" style="left:274.00px;top:737.15px;width:146.40px;height:20.00px;line-height:20.00px;text-align:center;font-size:15.7px;">4082</div>
<svg class="a" style="left:429.40px;top:740.85px" width="14" height="12" viewBox="0 0 14 12"><polygon points="0,12 7.0,0 14,12" fill="#7cc56c"/></svg>
<div class="t d" style="left:448.40px;top:737.15px;width:150.00px;height:20.00px;line-height:20.00px;text-align:left;color:#2a5c33;font-size:15.2px;">31</div>
<div class="t d" style="left:570.00px;top:737.15px;width:133.80px;height:20.00px;line-height:20.00px;text-align:center;color:#2a5c33;font-size:15.1px;">0.76%</div>
<div class="t d" style="left:703.80px;top:737.15px;width:132.20px;height:20.00px;line-height:20.00px;text-align:center;font-size:15.1px;">2.35%</div>
<div class="t d" style="left:836.00px;top:737.15px;width:141.40px;height:20.00px;line-height:20.00px;text-align:center;font-size:15.1px;">7.05%</div>
<div class="t d" style="left:977.40px;top:737.15px;width:140.20px;height:20.00px;line-height:20.00px;text-align:center;font-size:15.1px;">2.85%</div>
<div class="t d" style="left:1117.60px;top:737.15px;width:138.40px;height:20.00px;line-height:20.00px;text-align:center;font-size:15.1px;">24.02%</div>
<div class="b" style="left:8.00px;top:766.70px;width:1248.00px;height:40.00px;background:#f9f9f9;"></div>
<div class="b" style="left:570.00px;top:766.70px;width:133.80px;height:41.20px;background:#fff;z-index:1;"></div>
<div class="b" style="left:703.80px;top:766.70px;width:132.20px;height:41.20px;background:#b7edc4;z-index:1;"></div>
<div class="b" style="left:836.00px;top:766.70px;width:141.40px;height:41.20px;background:#62d47a;z-index:1;"></div>
<div class="b" style="left:977.40px;top:766.70px;width:140.20px;height:41.20px;background:#f7c4c6;z-index:1;"></div>
<div class="b" style="left:1117.60px;top:766.70px;width:138.40px;height:41.20px;background:#fff;z-index:1;"></div>
<div class="b" style="left:8.00px;top:766.70px;width:562.00px;height:1.00px;background:#dde0e4;opacity:.9;"></div>
<div class="b" style="left:570.00px;top:766.70px;width:686.00px;height:1.00px;background:rgba(218,222,228,.5);z-index:2;"></div>
<div class="f" style="left:16.00px;top:782.05px"><svg width="16" height="11" viewBox="0 0 16 11"><rect width="16" height="3.7" fill="#f39a2b"/><rect y="3.7" width="16" height="3.7" fill="#f8f8f8"/><rect y="7.4" width="16" height="3.6" fill="#2f9a3a"/><circle cx="8" cy="5.5" r="1.4" fill="#44c"/><rect width="16" height="5.5" fill="#fff" opacity=".18"/><rect x=".5" y=".5" width="15" height="10" fill="none" stroke="#000" stroke-opacity=".15"/></svg></div>
<div class="t n" style="left:81.00px;top:776.70px;width:300.00px;height:20.00px;line-height:20.00px;text-align:left;font-size:15.4px;">SENSEX</div>
<div class="t d" style="left:274.00px;top:777.30px;width:146.40px;height:20.00px;line-height:20.00px;text-align:center;font-size:15.7px;">78520</div>
<svg class="a" style="left:429.40px;top:781.00px" width="14" height="12" viewBox="0 0 14 12"><polygon points="0,12 7.0,0 14,12" fill="#7cc56c"/></svg>
<div class="t d" style="left:448.40px;top:777.30px;width:150.00px;height:20.00px;line-height:20.00px;text-align:left;color:#2a5c33;font-size:15.2px;">27</div>
<div class="t d" style="left:570.00px;top:777.30px;width:133.80px;height:20.00px;line-height:20.00px;text-align:center;color:#2a5c33;font-size:15.1px;">0.03%</div>
<div class="t d" style="left:703.80px;top:777.30px;width:132.20px;height:20.00px;line-height:20.00px;text-align:center;font-size:15.1px;">2.18%</div>
<div class="t d" style="left:836.00px;top:777.30px;width:141.40px;height:20.00px;line-height:20.00px;text-align:center;font-size:15.1px;">8.01%</div>
<div class="t d" style="left:977.40px;top:777.30px;width:140.20px;height:20.00px;line-height:20.00px;text-align:center;font-size:15.1px;">-7.86%</div>
<div class="t d" style="left:1117.60px;top:777.30px;width:138.40px;height:20.00px;line-height:20.00px;text-align:center;font-size:15.1px;">-1.12%</div>
<div class="b" style="left:8.00px;top:806.70px;width:1248.00px;height:40.00px;background:#fff;"></div>
<div class="b" style="left:570.00px;top:806.70px;width:133.80px;height:41.20px;background:#fff;z-index:1;"></div>
<div class="b" style="left:703.80px;top:806.70px;width:132.20px;height:41.20px;background:#d3f4dc;z-index:1;"></div>
<div class="b" style="left:836.00px;top:806.70px;width:141.40px;height:41.20px;background:#78db8e;z-index:1;"></div>
<div class="b" style="left:977.40px;top:806.70px;width:140.20px;height:41.20px;background:#c6f0d0;z-index:1;"></div>
<div class="b" style="left:1117.60px;top:806.70px;width:138.40px;height:41.20px;background:#4ccc64;z-index:1;"></div>
<div class="b" style="left:8.00px;top:806.70px;width:562.00px;height:1.00px;background:#dde0e4;opacity:.9;"></div>
<div class="b" style="left:570.00px;top:806.70px;width:686.00px;height:1.00px;background:rgba(218,222,228,.5);z-index:2;"></div>
<div class="f" style="left:16.00px;top:822.10px"><svg width="16" height="11" viewBox="0 0 16 11"><rect width="16" height="11" fill="#f8f8f8"/><rect width="4" height="11" fill="#e03535"/><rect x="12" width="4" height="11" fill="#e03535"/><path d="M8,2 L10.3,5.6 L9,8.6 H7 L5.7,5.6 Z" fill="#e03535"/><rect width="16" height="5.5" fill="#fff" opacity=".18"/><rect x=".5" y=".5" width="15" height="10" fill="none" stroke="#000" stroke-opacity=".15"/></svg></div>
<div class="t n" style="left:81.00px;top:816.84px;width:300.00px;height:20.00px;line-height:20.00px;text-align:left;font-size:15.4px;">TSX</div>
<div class="t d" style="left:274.00px;top:817.44px;width:146.40px;height:20.00px;line-height:20.00px;text-align:center;font-size:15.7px;">34360</div>
<svg class="a" style="left:429.40px;top:821.14px" width="14" height="12" viewBox="0 0 14 12"><polygon points="0,12 7.0,0 14,12" fill="#7cc56c"/></svg>
<div class="t d" style="left:448.40px;top:817.44px;width:150.00px;height:20.00px;line-height:20.00px;text-align:left;color:#2a5c33;font-size:15.2px;">14</div>
<div class="t d" style="left:570.00px;top:817.44px;width:133.80px;height:20.00px;line-height:20.00px;text-align:center;color:#2a5c33;font-size:15.1px;">0.04%</div>
<div class="t d" style="left:703.80px;top:817.44px;width:132.20px;height:20.00px;line-height:20.00px;text-align:center;font-size:15.1px;">1.42%</div>
<div class="t d" style="left:836.00px;top:817.44px;width:141.40px;height:20.00px;line-height:20.00px;text-align:center;font-size:15.1px;">7.77%</div>
<div class="t d" style="left:977.40px;top:817.44px;width:140.20px;height:20.00px;line-height:20.00px;text-align:center;font-size:15.1px;">8.35%</div>
<div class="t d" style="left:1117.60px;top:817.44px;width:138.40px;height:20.00px;line-height:20.00px;text-align:center;font-size:15.1px;">43.11%</div>
<div class="b" style="left:8.00px;top:846.70px;width:1248.00px;height:40.00px;background:#f9f9f9;"></div>
<div class="b" style="left:570.00px;top:846.70px;width:133.80px;height:41.20px;background:#4ccc64;z-index:1;"></div>
<div class="b" style="left:703.80px;top:846.70px;width:132.20px;height:41.20px;background:#d3f4dc;z-index:1;"></div>
<div class="b" style="left:836.00px;top:846.70px;width:141.40px;height:41.20px;background:#f9d2d3;z-index:1;"></div>
<div class="b" style="left:977.40px;top:846.70px;width:140.20px;height:41.20px;background:#fff;z-index:1;"></div>
<div class="b" style="left:1117.60px;top:846.70px;width:138.40px;height:41.20px;background:#f9d2d3;z-index:1;"></div>
<div class="b" style="left:8.00px;top:846.70px;width:562.00px;height:1.00px;background:#dde0e4;opacity:.9;"></div>
<div class="b" style="left:570.00px;top:846.70px;width:686.00px;height:1.00px;background:rgba(218,222,228,.5);z-index:2;"></div>
<div class="f" style="left:16.00px;top:862.15px"><svg width="16" height="11" viewBox="0 0 16 11"><rect width="16" height="3.7" fill="#f6f6f6"/><rect y="3.7" width="16" height="3.7" fill="#2f4fc0"/><rect y="7.4" width="16" height="3.6" fill="#de2d2d"/><rect width="16" height="5.5" fill="#fff" opacity=".18"/><rect x=".5" y=".5" width="15" height="10" fill="none" stroke="#000" stroke-opacity=".15"/></svg></div>
<div class="t n" style="left:81.00px;top:856.99px;width:300.00px;height:20.00px;line-height:20.00px;text-align:left;font-size:15.4px;">MOEX</div>
<div class="t d" style="left:274.00px;top:857.59px;width:146.40px;height:20.00px;line-height:20.00px;text-align:center;font-size:15.7px;">2755</div>
<svg class="a" style="left:429.40px;top:861.29px" width="14" height="12" viewBox="0 0 14 12"><polygon points="0,12 7.0,0 14,12" fill="#7cc56c"/></svg>
<div class="t d" style="left:448.40px;top:857.59px;width:150.00px;height:20.00px;line-height:20.00px;text-align:left;color:#2a5c33;font-size:15.2px;">31</div>
<div class="t d" style="left:570.00px;top:857.59px;width:133.80px;height:20.00px;line-height:20.00px;text-align:center;color:#2a5c33;font-size:15.1px;">1.14%</div>
<div class="t d" style="left:703.80px;top:857.59px;width:132.20px;height:20.00px;line-height:20.00px;text-align:center;font-size:15.1px;">1.19%</div>
<div class="t d" style="left:836.00px;top:857.59px;width:141.40px;height:20.00px;line-height:20.00px;text-align:center;font-size:15.1px;">-2.77%</div>
<div class="t d" style="left:977.40px;top:857.59px;width:140.20px;height:20.00px;line-height:20.00px;text-align:center;font-size:15.1px;">-0.42%</div>
<div class="t d" style="left:1117.60px;top:857.59px;width:138.40px;height:20.00px;line-height:20.00px;text-align:center;font-size:15.1px;">-5.73%</div>
<div class="b" style="left:8.00px;top:886.70px;width:1248.00px;height:40.00px;background:#fff;"></div>
<div class="b" style="left:570.00px;top:886.70px;width:133.80px;height:41.20px;background:#d3f4dc;z-index:1;"></div>
<div class="b" style="left:703.80px;top:886.70px;width:132.20px;height:41.20px;background:#fce8e8;z-index:1;"></div>
<div class="b" style="left:836.00px;top:886.70px;width:141.40px;height:41.20px;background:#78db8e;z-index:1;"></div>
<div class="b" style="left:977.40px;top:886.70px;width:140.20px;height:41.20px;background:#62d47a;z-index:1;"></div>
<div class="b" style="left:1117.60px;top:886.70px;width:138.40px;height:41.20px;background:#4ccc64;z-index:1;"></div>
<div class="b" style="left:8.00px;top:886.70px;width:562.00px;height:1.00px;background:#dde0e4;opacity:.9;"></div>
<div class="b" style="left:570.00px;top:886.70px;width:686.00px;height:1.00px;background:rgba(218,222,228,.5);z-index:2;"></div>
<div class="f" style="left:16.00px;top:902.20px"><svg width="16" height="11" viewBox="0 0 16 11"><rect width="16" height="11" fill="#3f9b43"/><path d="M8,1.2 L14.5,5.5 L8,9.8 L1.5,5.5 Z" fill="#f3d02f"/><circle cx="8" cy="5.5" r="2.5" fill="#2f4aa8"/><rect width="16" height="5.5" fill="#fff" opacity=".18"/><rect x=".5" y=".5" width="15" height="10" fill="none" stroke="#000" stroke-opacity=".15"/></svg></div>
<div class="t n" style="left:81.00px;top:897.13px;width:300.00px;height:20.00px;line-height:20.00px;text-align:left;font-size:15.4px;">IBOVESPA</div>
<div class="t d" style="left:274.00px;top:897.73px;width:146.40px;height:20.00px;line-height:20.00px;text-align:center;font-size:15.7px;">196206</div>
<svg class="a" style="left:429.40px;top:901.43px" width="14" height="12" viewBox="0 0 14 12"><polygon points="0,12 7.0,0 14,12" fill="#7cc56c"/></svg>
<div class="t d" style="left:448.40px;top:897.73px;width:150.00px;height:20.00px;line-height:20.00px;text-align:left;color:#2a5c33;font-size:15.2px;">472</div>
<div class="t d" style="left:570.00px;top:897.73px;width:133.80px;height:20.00px;line-height:20.00px;text-align:center;color:#2a5c33;font-size:15.1px;">0.24%</div>
<div class="t d" style="left:703.80px;top:897.73px;width:132.20px;height:20.00px;line-height:20.00px;text-align:center;font-size:15.1px;">-0.91%</div>
<div class="t d" style="left:836.00px;top:897.73px;width:141.40px;height:20.00px;line-height:20.00px;text-align:center;font-size:15.1px;">7.85%</div>
<div class="t d" style="left:977.40px;top:897.73px;width:140.20px;height:20.00px;line-height:20.00px;text-align:center;font-size:15.1px;">21.77%</div>
<div class="t d" style="left:1117.60px;top:897.73px;width:138.40px;height:20.00px;line-height:20.00px;text-align:center;font-size:15.1px;">50.39%</div>
<div class="b" style="left:8.00px;top:926.70px;width:1248.00px;height:40.00px;background:#f9f9f9;"></div>
<div class="b" style="left:570.00px;top:926.70px;width:133.80px;height:41.20px;background:#d3f4dc;z-index:1;"></div>
<div class="b" style="left:703.80px;top:926.70px;width:132.20px;height:41.20px;background:#eaf9ee;z-index:1;"></div>
<div class="b" style="left:836.00px;top:926.70px;width:141.40px;height:41.20px;background:#62d47a;z-index:1;"></div>
<div class="b" style="left:977.40px;top:926.70px;width:140.20px;height:41.20px;background:#c6f0d0;z-index:1;"></div>
<div class="b" style="left:1117.60px;top:926.70px;width:138.40px;height:41.20px;background:#4ccc64;z-index:1;"></div>
<div class="b" style="left:8.00px;top:926.70px;width:562.00px;height:1.00px;background:#dde0e4;opacity:.9;"></div>
<div class="b" style="left:570.00px;top:926.70px;width:686.00px;height:1.00px;background:rgba(218,222,228,.5);z-index:2;"></div>
<div class="f" style="left:16.00px;top:942.25px"><svg width="16" height="11" viewBox="0 0 16 11"><rect width="16" height="11" fill="#f4f4f4"/><rect width="5.3" height="11" fill="#2f8a46"/><rect x="10.7" width="5.3" height="11" fill="#d93030"/><circle cx="8" cy="5.5" r="1.4" fill="#a5804a"/><rect width="16" height="5.5" fill="#fff" opacity=".18"/><rect x=".5" y=".5" width="15" height="10" fill="none" stroke="#000" stroke-opacity=".15"/></svg></div>
<div class="t n" style="left:81.00px;top:937.27px;width:300.00px;height:20.00px;line-height:20.00px;text-align:left;font-size:15.4px;">IPC</div>
<div class="t d" style="left:274.00px;top:937.88px;width:146.40px;height:20.00px;line-height:20.00px;text-align:center;font-size:15.7px;">70021</div>
<svg class="a" style="left:429.40px;top:941.58px" width="14" height="12" viewBox="0 0 14 12"><polygon points="0,12 7.0,0 14,12" fill="#7cc56c"/></svg>
<div class="t d" style="left:448.40px;top:937.88px;width:150.00px;height:20.00px;line-height:20.00px;text-align:left;color:#2a5c33;font-size:15.2px;">195</div>
<div class="t d" style="left:570.00px;top:937.88px;width:133.80px;height:20.00px;line-height:20.00px;text-align:center;color:#2a5c33;font-size:15.1px;">0.28%</div>
<div class="t d" style="left:703.80px;top:937.88px;width:132.20px;height:20.00px;line-height:20.00px;text-align:center;font-size:15.1px;">0.61%</div>
<div class="t d" style="left:836.00px;top:937.88px;width:141.40px;height:20.00px;line-height:20.00px;text-align:center;font-size:15.1px;">8.78%</div>
<div class="t d" style="left:977.40px;top:937.88px;width:140.20px;height:20.00px;line-height:20.00px;text-align:center;font-size:15.1px;">8.95%</div>
<div class="t d" style="left:1117.60px;top:937.88px;width:138.40px;height:20.00px;line-height:20.00px;text-align:center;font-size:15.1px;">30.25%</div>
<div class="b" style="left:8.00px;top:966.70px;width:1248.00px;height:40.00px;background:#fff;"></div>
<div class="b" style="left:570.00px;top:966.70px;width:133.80px;height:41.20px;background:#fce8e8;z-index:1;"></div>
<div class="b" style="left:703.80px;top:966.70px;width:132.20px;height:41.20px;background:#eaf9ee;z-index:1;"></div>
<div class="b" style="left:836.00px;top:966.70px;width:141.40px;height:41.20px;background:#78db8e;z-index:1;"></div>
<div class="b" style="left:977.40px;top:966.70px;width:140.20px;height:41.20px;background:#c6f0d0;z-index:1;"></div>
<div class="b" style="left:1117.60px;top:966.70px;width:138.40px;height:41.20px;background:#78db8e;z-index:1;"></div>
<div class="b" style="left:8.00px;top:966.70px;width:562.00px;height:1.00px;background:#dde0e4;opacity:.9;"></div>
<div class="b" style="left:570.00px;top:966.70px;width:686.00px;height:1.00px;background:rgba(218,222,228,.5);z-index:2;"></div>
<div class="f" style="left:16.00px;top:982.30px"><svg width="16" height="11" viewBox="0 0 16 11"><rect width="16" height="3.7" fill="#d8262e"/><rect y="3.7" width="16" height="3.7" fill="#f8f8f8"/><rect y="7.4" width="16" height="3.6" fill="#2b4aa6"/><rect width="16" height="5.5" fill="#fff" opacity=".18"/><rect x=".5" y=".5" width="15" height="10" fill="none" stroke="#000" stroke-opacity=".15"/></svg></div>
<div class="t n" style="left:81.00px;top:977.42px;width:300.00px;height:20.00px;line-height:20.00px;text-align:left;font-size:15.4px;">NL<span class="dg">25</span></div>
<div class="t d" style="left:274.00px;top:978.02px;width:146.40px;height:20.00px;line-height:20.00px;text-align:center;font-size:15.7px;">1022</div>
<svg class="a" style="left:429.40px;top:981.72px" width="14" height="12" viewBox="0 0 14 12"><polygon points="0,0 14,0 7.0,12" fill="#e02a2a"/></svg>
<div class="t d" style="left:448.40px;top:978.02px;width:150.00px;height:20.00px;line-height:20.00px;text-align:left;color:#7e1919;font-size:15.2px;">2</div>
<div class="t d" style="left:570.00px;top:978.02px;width:133.80px;height:20.00px;line-height:20.00px;text-align:center;color:#7e1919;font-size:15.1px;">-0.17%</div>
<div class="t d" style="left:703.80px;top:978.02px;width:132.20px;height:20.00px;line-height:20.00px;text-align:center;font-size:15.1px;">0.97%</div>
<div class="t d" style="left:836.00px;top:978.02px;width:141.40px;height:20.00px;line-height:20.00px;text-align:center;font-size:15.1px;">5.71%</div>
<div class="t d" style="left:977.40px;top:978.02px;width:140.20px;height:20.00px;line-height:20.00px;text-align:center;font-size:15.1px;">7.43%</div>
<div class="t d" style="left:1117.60px;top:978.02px;width:138.40px;height:20.00px;line-height:20.00px;text-align:center;font-size:15.1px;">19.22%</div>
<div class="b" style="left:8.00px;top:1006.70px;width:1248.00px;height:38.60px;background:#f9f9f9;"></div>
<div class="b" style="left:570.00px;top:1006.70px;width:133.80px;height:38.60px;background:#e8393c;z-index:1;"></div>
<div class="b" style="left:703.80px;top:1006.70px;width:132.20px;height:38.60px;background:#d3f4dc;z-index:1;"></div>
<div class="b" style="left:836.00px;top:1006.70px;width:141.40px;height:38.60px;background:#78db8e;z-index:1;"></div>
<div class="b" style="left:977.40px;top:1006.70px;width:140.20px;height:38.60px;background:#fff;z-index:1;"></div>
<div class="b" style="left:1117.60px;top:1006.70px;width:138.40px;height:38.60px;background:#9be5ac;z-index:1;"></div>
<div class="b" style="left:8.00px;top:1006.70px;width:562.00px;height:1.00px;background:#dde0e4;opacity:.9;"></div>
<div class="b" style="left:570.00px;top:1006.70px;width:686.00px;height:1.00px;background:rgba(218,222,228,.5);z-index:2;"></div>
<div class="f" style="left:16.00px;top:1021.85px"><svg width="12" height="12" viewBox="0 0 12 12"><rect width="12" height="12" rx="1" fill="#e02b2b"/><path d="M6,2.7 V9.3 M2.7,6 H9.3" stroke="#fff" stroke-width="2.4"/><rect width="12" height="6.0" fill="#fff" opacity=".18"/><rect x=".5" y=".5" width="11" height="11" fill="none" stroke="#000" stroke-opacity=".15"/></svg></div>
<div class="t n" style="left:81.00px;top:1017.57px;width:300.00px;height:20.00px;line-height:20.00px;text-align:left;font-size:15.4px;">CH<span class="dg">20</span></div>
<div class="t d" style="left:274.00px;top:1018.17px;width:146.40px;height:20.00px;line-height:20.00px;text-align:center;font-size:15.7px;">13284</div>
<svg class="a" style="left:429.40px;top:1021.87px" width="14" height="12" viewBox="0 0 14 12"><polygon points="0,0 14,0 7.0,12" fill="#e02a2a"/></svg>
<div class="t d" style="left:448.40px;top:1018.17px;width:150.00px;height:20.00px;line-height:20.00px;text-align:left;color:#7e1919;font-size:15.2px;">143</div>
<div class="t d" style="left:570.00px;top:1018.17px;width:133.80px;height:20.00px;line-height:20.00px;text-align:center;color:#7e1919;font-size:15.1px;">-1.06%</div>
<div class="t d" style="left:703.80px;top:1018.17px;width:132.20px;height:20.00px;line-height:20.00px;text-align:center;font-size:15.1px;">1.05%</div>
<div class="t d" style="left:836.00px;top:1018.17px;width:141.40px;height:20.00px;line-height:20.00px;text-align:center;font-size:15.1px;">7.22%</div>
<div class="t d" style="left:977.40px;top:1018.17px;width:140.20px;height:20.00px;line-height:20.00px;text-align:center;font-size:15.1px;">0.13%</div>
<div class="t d" style="left:1117.60px;top:1018.17px;width:138.40px;height:20.00px;line-height:20.00px;text-align:center;font-size:15.1px;">14.06%</div>
<div class="b" style="left:8.00px;top:288.00px;width:1.00px;height:757.30px;background:#dde0e4;opacity:.8;"></div>
<div class="b" style="left:1255.00px;top:288.00px;width:1.00px;height:757.30px;background:#dde0e4;opacity:.8;"></div>
<div class="b" style="left:8.00px;top:1044.80px;width:1248.00px;height:1.00px;background:#dde0e4;opacity:.8;"></div>
<div class="b" style="left:8.00px;top:1084.40px;width:1246.40px;height:38.20px;background:#f4f4f4;"></div>
<div class="b" style="left:8.00px;top:1084.40px;width:1246.40px;height:1.00px;background:#dde0e4;opacity:.7;"></div>
<div class="b" style="left:8.00px;top:1121.10px;width:1246.40px;height:1.50px;background:#dde0e4;opacity:.9;"></div>
<div class="t h" style="left:17.00px;top:1082.60px;width:300.00px;height:38.00px;line-height:38.00px;text-align:left;font-size:14.5px;">Metals</div>
<div class="t h" style="left:214.80px;top:1082.60px;width:146.80px;height:38.00px;line-height:38.00px;text-align:center;font-size:14.5px;">Price</div>
<div class="t h" style="left:370.60px;top:1082.60px;width:100.00px;height:38.00px;line-height:38.00px;text-align:left;font-size:14.5px;">Day</div>
<div class="t h" style="left:533.60px;top:1082.60px;width:136.40px;height:38.00px;line-height:38.00px;text-align:center;font-size:14.5px;">%</div>
<div class="t h" style="left:670.00px;top:1082.60px;width:136.60px;height:38.00px;line-height:38.00px;text-align:center;font-size:14.5px;">Weekly</div>
<div class="t h" style="left:806.60px;top:1082.60px;width:143.40px;height:38.00px;line-height:38.00px;text-align:center;font-size:14.5px;">Monthly</div>
<div class="t h" style="left:950.00px;top:1082.60px;width:143.60px;height:38.00px;line-height:38.00px;text-align:center;font-size:14.5px;">YTD</div>
<div class="t h" style="left:1093.60px;top:1082.60px;width:160.80px;height:38.00px;line-height:38.00px;text-align:center;font-size:14.5px;">YoY</div>
<div class="b" style="left:8.00px;top:1122.60px;width:1246.40px;height:39.36px;background:#fff;"></div>
<div class="b" style="left:533.60px;top:1122.60px;width:136.40px;height:40.56px;background:#fff;z-index:1;"></div>
<div class="b" style="left:670.00px;top:1122.60px;width:136.60px;height:40.56px;background:#fff;z-index:1;"></div>
<div class="b" style="left:806.60px;top:1122.60px;width:143.40px;height:40.56px;background:#eaf9ee;z-index:1;"></div>
<div class="b" style="left:950.00px;top:1122.60px;width:143.60px;height:40.56px;background:#fff;z-index:1;"></div>
<div class="b" style="left:1093.60px;top:1122.60px;width:160.80px;height:40.56px;background:#d3f4dc;z-index:1;"></div>
<div class="b" style="left:8.00px;top:1122.60px;width:525.60px;height:1.00px;background:#dde0e4;opacity:.9;"></div>
<div class="b" style="left:533.60px;top:1122.60px;width:720.80px;height:1.00px;background:rgba(218,222,228,.5);z-index:2;"></div>
<div class="t n" style="left:17.00px;top:1126.40px;width:300.00px;height:18.00px;line-height:18.00px;text-align:left;">Gold</div>
<div class="t s" style="left:17.00px;top:1148.80px;width:300.00px;height:10.00px;line-height:10.00px;text-align:left;">USD/t.oz</div>
<div class="t d" style="left:214.80px;top:1126.40px;width:146.80px;height:20.00px;line-height:20.00px;text-align:center;font-size:15px;">4813.12</div>
<svg class="a" style="left:370.60px;top:1130.10px" width="14" height="12" viewBox="0 0 14 12"><polygon points="0,0 14,0 7.0,12" fill="#e02a2a"/></svg>
<div class="t d" style="left:389.60px;top:1126.40px;width:150.00px;height:20.00px;line-height:20.00px;text-align:left;color:#7e1919;font-size:14.8px;">20.44</div>
<div class="t d" style="left:533.60px;top:1125.40px;width:136.40px;height:20.00px;line-height:20.00px;text-align:center;color:#7e1919;font-size:14.2px;">-0.42%</div>
<div class="t d" style="left:670.00px;top:1125.40px;width:136.60px;height:20.00px;line-height:20.00px;text-align:center;font-size:14.2px;">1.43%</div>
<div class="t d" style="left:806.60px;top:1125.40px;width:143.40px;height:20.00px;line-height:20.00px;text-align:center;font-size:14.2px;">9.19%</div>
<div class="t d" style="left:950.00px;top:1125.40px;width:143.60px;height:20.00px;line-height:20.00px;text-align:center;font-size:14.2px;">11.43%</div>
<div class="t d" style="left:1093.60px;top:1125.40px;width:160.80px;height:20.00px;line-height:20.00px;text-align:center;font-size:14.2px;">40.16%</div>
<div class="b" style="left:8.00px;top:1161.96px;width:1246.40px;height:39.36px;background:#f9f9f9;"></div>
<div class="b" style="left:533.60px;top:1161.96px;width:136.40px;height:40.56px;background:#f9d2d3;z-index:1;"></div>
<div class="b" style="left:670.00px;top:1161.96px;width:136.60px;height:40.56px;background:#d3f4dc;z-index:1;"></div>
<div class="b" style="left:806.60px;top:1161.96px;width:143.40px;height:40.56px;background:#b7edc4;z-index:1;"></div>
<div class="b" style="left:950.00px;top:1161.96px;width:143.60px;height:40.56px;background:#fff;z-index:1;"></div>
<div class="b" style="left:1093.60px;top:1161.96px;width:160.80px;height:40.56px;background:#78db8e;z-index:1;"></div>
<div class="b" style="left:8.00px;top:1161.96px;width:525.60px;height:1.00px;background:#dde0e4;opacity:.9;"></div>
<div class="b" style="left:533.60px;top:1161.96px;width:720.80px;height:1.00px;background:rgba(218,222,228,.5);z-index:2;"></div>
<div class="t n" style="left:17.00px;top:1165.76px;width:300.00px;height:18.00px;line-height:18.00px;text-align:left;">Silver</div>
<div class="t s" style="left:17.00px;top:1188.27px;width:300.00px;height:10.00px;line-height:10.00px;text-align:left;">USD/t.oz</div>
<div class="t d" style="left:214.80px;top:1165.80px;width:146.80px;height:20.00px;line-height:20.00px;text-align:center;font-size:15px;">79.635</div>
<svg class="a" style="left:370.60px;top:1169.50px" width="14" height="12" viewBox="0 0 14 12"><polygon points="0,0 14,0 7.0,12" fill="#e02a2a"/></svg>
<div class="t d" style="left:389.60px;top:1165.80px;width:150.00px;height:20.00px;line-height:20.00px;text-align:left;color:#7e1919;font-size:14.8px;">1.12</div>
<div class="t d" style="left:533.60px;top:1164.80px;width:136.40px;height:20.00px;line-height:20.00px;text-align:center;color:#7e1919;font-size:14.2px;">-1.39%</div>
<div class="t d" style="left:670.00px;top:1164.80px;width:136.60px;height:20.00px;line-height:20.00px;text-align:center;font-size:14.2px;">5.47%</div>
<div class="t d" style="left:806.60px;top:1164.80px;width:143.40px;height:20.00px;line-height:20.00px;text-align:center;font-size:14.2px;">15.24%</div>
<div class="t d" style="left:950.00px;top:1164.80px;width:143.60px;height:20.00px;line-height:20.00px;text-align:center;font-size:14.2px;">11.79%</div>
<div class="t d" style="left:1093.60px;top:1164.80px;width:160.80px;height:20.00px;line-height:20.00px;text-align:center;font-size:14.2px;">143.35%</div>
<div class="b" style="left:8.00px;top:1201.32px;width:1246.40px;height:39.36px;background:#fff;"></div>
<div class="b" style="left:533.60px;top:1201.32px;width:136.40px;height:40.56px;background:#f9d2d3;z-index:1;"></div>
<div class="b" style="left:670.00px;top:1201.32px;width:136.60px;height:40.56px;background:#fff;z-index:1;"></div>
<div class="b" style="left:806.60px;top:1201.32px;width:143.40px;height:40.56px;background:#d3f4dc;z-index:1;"></div>
<div class="b" style="left:950.00px;top:1201.32px;width:143.60px;height:40.56px;background:#fff;z-index:1;"></div>
<div class="b" style="left:1093.60px;top:1201.32px;width:160.80px;height:40.56px;background:#eaf9ee;z-index:1;"></div>
<div class="b" style="left:8.00px;top:1201.32px;width:525.60px;height:1.00px;background:#dde0e4;opacity:.9;"></div>
<div class="b" style="left:533.60px;top:1201.32px;width:720.80px;height:1.00px;background:rgba(218,222,228,.5);z-index:2;"></div>
<div class="t n" style="left:17.00px;top:1205.12px;width:300.00px;height:18.00px;line-height:18.00px;text-align:left;">Copper</div>
<div class="t s" style="left:17.00px;top:1227.74px;width:300.00px;height:10.00px;line-height:10.00px;text-align:left;">USD/Lbs</div>
<div class="t d" style="left:214.80px;top:1205.20px;width:146.80px;height:20.00px;line-height:20.00px;text-align:center;font-size:15px;">6.0351</div>
<svg class="a" style="left:370.60px;top:1208.90px" width="14" height="12" viewBox="0 0 14 12"><polygon points="0,0 14,0 7.0,12" fill="#e02a2a"/></svg>
<div class="t d" style="left:389.60px;top:1205.20px;width:150.00px;height:20.00px;line-height:20.00px;text-align:left;color:#7e1919;font-size:14.8px;">0.0684</div>
<div class="t d" style="left:533.60px;top:1204.20px;width:136.40px;height:20.00px;line-height:20.00px;text-align:center;color:#7e1919;font-size:14.2px;">-1.12%</div>
<div class="t d" style="left:670.00px;top:1204.20px;width:136.60px;height:20.00px;line-height:20.00px;text-align:center;font-size:14.2px;">1.00%</div>
<div class="t d" style="left:806.60px;top:1204.20px;width:143.40px;height:20.00px;line-height:20.00px;text-align:center;font-size:14.2px;">10.96%</div>
<div class="t d" style="left:950.00px;top:1204.20px;width:143.60px;height:20.00px;line-height:20.00px;text-align:center;font-size:14.2px;">6.23%</div>
<div class="t d" style="left:1093.60px;top:1204.20px;width:160.80px;height:20.00px;line-height:20.00px;text-align:center;font-size:14.2px;">27.39%</div>
<div class="b" style="left:8.00px;top:1240.68px;width:1246.40px;height:39.36px;background:#f9f9f9;"></div>
<div class="b" style="left:533.60px;top:1240.68px;width:136.40px;height:40.56px;background:#d3f4dc;z-index:1;"></div>
<div class="b" style="left:670.00px;top:1240.68px;width:136.60px;height:40.56px;background:#fff;z-index:1;"></div>
<div class="b" style="left:806.60px;top:1240.68px;width:143.40px;height:40.56px;background:#fff;z-index:1;"></div>
<div class="b" style="left:950.00px;top:1240.68px;width:143.60px;height:40.56px;background:#fff;z-index:1;"></div>
<div class="b" style="left:1093.60px;top:1240.68px;width:160.80px;height:40.56px;background:#fff;z-index:1;"></div>
<div class="b" style="left:8.00px;top:1240.68px;width:525.60px;height:1.00px;background:#dde0e4;opacity:.9;"></div>
<div class="b" style="left:533.60px;top:1240.68px;width:720.80px;height:1.00px;background:rgba(218,222,228,.5);z-index:2;"></div>
<div class="t n" style="left:17.00px;top:1244.48px;width:300.00px;height:18.00px;line-height:18.00px;text-align:left;">Steel</div>
<div class="t s" style="left:17.00px;top:1267.21px;width:300.00px;height:10.00px;line-height:10.00px;text-align:left;">CNY/T</div>
<div class="t d" style="left:214.80px;top:1244.60px;width:146.80px;height:20.00px;line-height:20.00px;text-align:center;font-size:15px;">3138.00</div>
<svg class="a" style="left:370.60px;top:1248.30px" width="14" height="12" viewBox="0 0 14 12"><polygon points="0,12 7.0,0 14,12" fill="#7cc56c"/></svg>
<div class="t d" style="left:389.60px;top:1244.60px;width:150.00px;height:20.00px;line-height:20.00px;text-align:left;color:#2a5c33;font-size:14.8px;">41.00</div>
<div class="t d" style="left:533.60px;top:1243.60px;width:136.40px;height:20.00px;line-height:20.00px;text-align:center;color:#2a5c33;font-size:14.2px;">1.32%</div>
<div class="t d" style="left:670.00px;top:1243.60px;width:136.60px;height:20.00px;line-height:20.00px;text-align:center;font-size:14.2px;">1.88%</div>
<div class="t d" style="left:806.60px;top:1243.60px;width:143.40px;height:20.00px;line-height:20.00px;text-align:center;font-size:14.2px;">-0.19%</div>
<div class="t d" style="left:950.00px;top:1243.60px;width:143.60px;height:20.00px;line-height:20.00px;text-align:center;font-size:14.2px;">1.36%</div>
<div class="t d" style="left:1093.60px;top:1243.60px;width:160.80px;height:20.00px;line-height:20.00px;text-align:center;font-size:14.2px;">2.68%</div>
<div class="b" style="left:8.00px;top:1280.04px;width:1246.40px;height:39.36px;background:#fff;"></div>
<div class="b" style="left:533.60px;top:1280.04px;width:136.40px;height:40.56px;background:#b7edc4;z-index:1;"></div>
<div class="b" style="left:670.00px;top:1280.04px;width:136.60px;height:40.56px;background:#b7edc4;z-index:1;"></div>
<div class="b" style="left:806.60px;top:1280.04px;width:143.40px;height:40.56px;background:#b7edc4;z-index:1;"></div>
<div class="b" style="left:950.00px;top:1280.04px;width:143.60px;height:40.56px;background:#d3f4dc;z-index:1;"></div>
<div class="b" style="left:1093.60px;top:1280.04px;width:160.80px;height:40.56px;background:#78db8e;z-index:1;"></div>
<div class="b" style="left:8.00px;top:1280.04px;width:525.60px;height:1.00px;background:#dde0e4;opacity:.9;"></div>
<div class="b" style="left:533.60px;top:1280.04px;width:720.80px;height:1.00px;background:rgba(218,222,228,.5);z-index:2;"></div>
<div class="t n" style="left:17.00px;top:1283.84px;width:300.00px;height:18.00px;line-height:18.00px;text-align:left;">Lithium</div>
<div class="t s" style="left:17.00px;top:1306.68px;width:300.00px;height:10.00px;line-height:10.00px;text-align:left;">CNY/T</div>
<div class="t d" style="left:214.80px;top:1284.00px;width:146.80px;height:20.00px;line-height:20.00px;text-align:center;font-size:15px;">172500</div>
<svg class="a" style="left:370.60px;top:1287.70px" width="14" height="12" viewBox="0 0 14 12"><polygon points="0,12 7.0,0 14,12" fill="#7cc56c"/></svg>
<div class="t d" style="left:389.60px;top:1284.00px;width:150.00px;height:20.00px;line-height:20.00px;text-align:left;color:#2a5c33;font-size:14.8px;">3,000</div>
<div class="t d" style="left:533.60px;top:1283.00px;width:136.40px;height:20.00px;line-height:20.00px;text-align:center;color:#2a5c33;font-size:14.2px;">1.77%</div>
<div class="t d" style="left:670.00px;top:1283.00px;width:136.60px;height:20.00px;line-height:20.00px;text-align:center;font-size:14.2px;">9.87%</div>
<div class="t d" style="left:806.60px;top:1283.00px;width:143.40px;height:20.00px;line-height:20.00px;text-align:center;font-size:14.2px;">17.75%</div>
<div class="t d" style="left:950.00px;top:1283.00px;width:143.60px;height:20.00px;line-height:20.00px;text-align:center;font-size:14.2px;">45.57%</div>
<div class="t d" style="left:1093.60px;top:1283.00px;width:160.80px;height:20.00px;line-height:20.00px;text-align:center;font-size:14.2px;">143.47%</div>
<div class="b" style="left:8.00px;top:1319.40px;width:1246.40px;height:39.36px;background:#f9f9f9;"></div>
<div class="b" style="left:533.60px;top:1319.40px;width:136.40px;height:40.56px;background:#d3f4dc;z-index:1;"></div>
<div class="b" style="left:670.00px;top:1319.40px;width:136.60px;height:40.56px;background:#eaf9ee;z-index:1;"></div>
<div class="b" style="left:806.60px;top:1319.40px;width:143.40px;height:40.56px;background:#fff;z-index:1;"></div>
<div class="b" style="left:950.00px;top:1319.40px;width:143.60px;height:40.56px;background:#fff;z-index:1;"></div>
<div class="b" style="left:1093.60px;top:1319.40px;width:160.80px;height:40.56px;background:#fff;z-index:1;"></div>
<div class="b" style="left:8.00px;top:1319.40px;width:525.60px;height:1.00px;background:#dde0e4;opacity:.9;"></div>
<div class="b" style="left:533.60px;top:1319.40px;width:720.80px;height:1.00px;background:rgba(218,222,228,.5);z-index:2;"></div>
<div class="t n" style="left:17.00px;top:1323.20px;width:300.00px;height:18.00px;line-height:18.00px;text-align:left;">Iron Ore CNY</div>
<div class="t s" style="left:17.00px;top:1346.15px;width:300.00px;height:10.00px;line-height:10.00px;text-align:left;">CNY/T</div>
<div class="t d" style="left:214.80px;top:1323.40px;width:146.80px;height:20.00px;line-height:20.00px;text-align:center;font-size:15px;">786.50</div>
<svg class="a" style="left:370.60px;top:1327.10px" width="14" height="12" viewBox="0 0 14 12"><polygon points="0,12 7.0,0 14,12" fill="#7cc56c"/></svg>
<div class="t d" style="left:389.60px;top:1323.40px;width:150.00px;height:20.00px;line-height:20.00px;text-align:left;color:#2a5c33;font-size:14.8px;">8.00</div>
<div class="t d" style="left:533.60px;top:1322.40px;width:136.40px;height:20.00px;line-height:20.00px;text-align:center;color:#2a5c33;font-size:14.2px;">1.03%</div>
<div class="t d" style="left:670.00px;top:1322.40px;width:136.60px;height:20.00px;line-height:20.00px;text-align:center;font-size:14.2px;">3.01%</div>
<div class="t d" style="left:806.60px;top:1322.40px;width:143.40px;height:20.00px;line-height:20.00px;text-align:center;font-size:14.2px;">-3.97%</div>
<div class="t d" style="left:950.00px;top:1322.40px;width:143.60px;height:20.00px;line-height:20.00px;text-align:center;font-size:14.2px;">-0.38%</div>
<div class="t d" style="left:1093.60px;top:1322.40px;width:160.80px;height:20.00px;line-height:20.00px;text-align:center;font-size:14.2px;">10.15%</div>
<div class="b" style="left:8.00px;top:1358.76px;width:1246.40px;height:40.04px;background:#fff;"></div>
<div class="b" style="left:533.60px;top:1358.76px;width:136.40px;height:40.04px;background:#f3a5a7;z-index:1;"></div>
<div class="b" style="left:670.00px;top:1358.76px;width:136.60px;height:40.04px;background:#fff;z-index:1;"></div>
<div class="b" style="left:806.60px;top:1358.76px;width:143.40px;height:40.04px;background:#d3f4dc;z-index:1;"></div>
<div class="b" style="left:950.00px;top:1358.76px;width:143.60px;height:40.04px;background:#fff;z-index:1;"></div>
<div class="b" style="left:1093.60px;top:1358.76px;width:160.80px;height:40.04px;background:#9be5ac;z-index:1;"></div>
<div class="b" style="left:8.00px;top:1358.76px;width:525.60px;height:1.00px;background:#dde0e4;opacity:.9;"></div>
<div class="b" style="left:533.60px;top:1358.76px;width:720.80px;height:1.00px;background:rgba(218,222,228,.5);z-index:2;"></div>
<div class="t n" style="left:17.00px;top:1362.56px;width:300.00px;height:18.00px;line-height:18.00px;text-align:left;">Platinum</div>
<div class="t s" style="left:17.00px;top:1385.62px;width:300.00px;height:10.00px;line-height:10.00px;text-align:left;">USD/t.oz</div>
<div class="t d" style="left:214.80px;top:1362.80px;width:146.80px;height:20.00px;line-height:20.00px;text-align:center;font-size:15px;">2094.40</div>
<svg class="a" style="left:370.60px;top:1366.50px" width="14" height="12" viewBox="0 0 14 12"><polygon points="0,0 14,0 7.0,12" fill="#e02a2a"/></svg>
<div class="t d" style="left:389.60px;top:1362.80px;width:150.00px;height:20.00px;line-height:20.00px;text-align:left;color:#7e1919;font-size:14.8px;">47.3</div>
<div class="t d" style="left:533.60px;top:1361.80px;width:136.40px;height:20.00px;line-height:20.00px;text-align:center;color:#7e1919;font-size:14.2px;">-2.21%</div>
<div class="t d" style="left:670.00px;top:1361.80px;width:136.60px;height:20.00px;line-height:20.00px;text-align:center;font-size:14.2px;">0.76%</div>
<div class="t d" style="left:806.60px;top:1361.80px;width:143.40px;height:20.00px;line-height:20.00px;text-align:center;font-size:14.2px;">12.35%</div>
<div class="t d" style="left:950.00px;top:1361.80px;width:143.60px;height:20.00px;line-height:20.00px;text-align:center;font-size:14.2px;">1.15%</div>
<div class="t d" style="left:1093.60px;top:1361.80px;width:160.80px;height:20.00px;line-height:20.00px;text-align:center;font-size:14.2px;">118.40%</div>
<div class="b" style="left:8.00px;top:1084.40px;width:1.00px;height:314.40px;background:#dde0e4;opacity:.8;"></div>
<div class="b" style="left:1253.40px;top:1084.40px;width:1.00px;height:314.40px;background:#dde0e4;opacity:.8;"></div>
<div class="b" style="left:8.00px;top:1398.30px;width:1246.40px;height:1.00px;background:#dde0e4;opacity:.8;"></div>
<div class="b" style="left:1260.40px;top:1017.60px;width:3.80px;height:36.00px;background:#000;"></div>
</div></body></html>
